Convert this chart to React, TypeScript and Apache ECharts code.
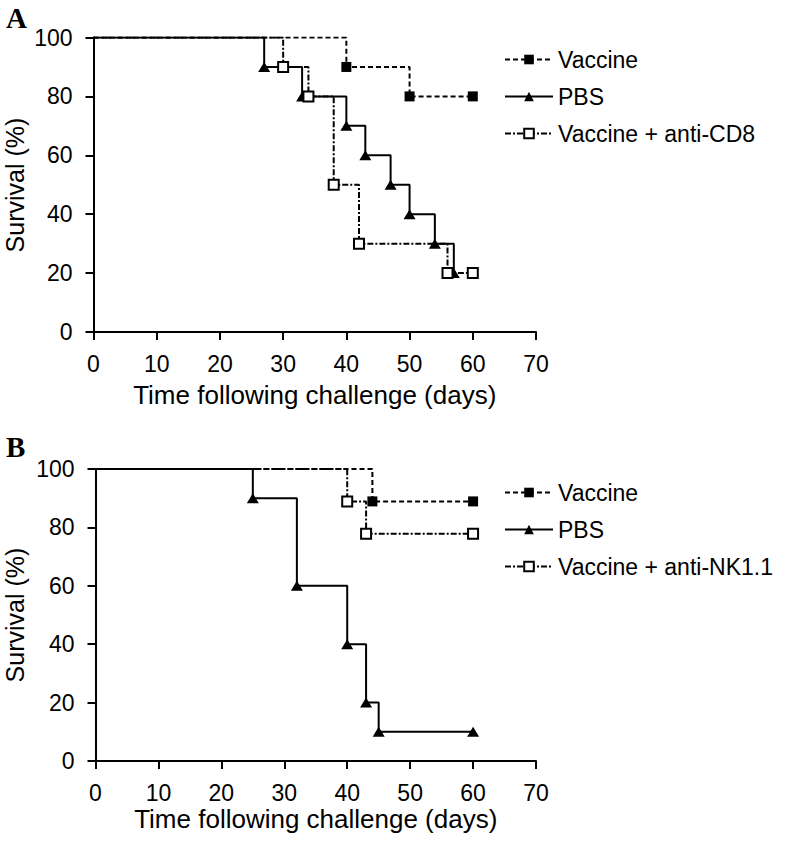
import React, { useEffect, useRef } from "react";
import * as echarts from "echarts";

// Panel A
const aVaccineDays = [0, 40, 50, 60];
const aVaccineSurv = [100, 90, 80, 80];
const aPbsDays = [0, 27, 33, 40, 43, 47, 50, 54, 57];
const aPbsSurv = [100, 90, 80, 70, 60, 50, 40, 30, 20];
const aCd8Days = [0, 30, 34, 38, 42, 56, 60];
const aCd8Surv = [100, 90, 80, 50, 30, 20, 20];

// Panel B
const bVaccineDays = [0, 44, 60];
const bVaccineSurv = [100, 88.9, 88.9];
const bPbsDays = [0, 25, 32, 40, 43, 45, 60];
const bPbsSurv = [100, 90, 60, 40, 20, 10, 10];
const bNkDays = [0, 40, 43, 60];
const bNkSurv = [100, 88.9, 77.8, 77.8];

const xTicks = [0, 10, 20, 30, 40, 50, 60, 70];
const yTicks = [0, 20, 40, 60, 80, 100];

const namesA = ["Vaccine", "PBS", "Vaccine + anti-CD8"];
const namesB = ["Vaccine", "PBS", "Vaccine + anti-NK1.1"];

const xTitle = "Time following challenge (days)";
const yTitle = "Survival (%)";

const FONT = "'Liberation Sans', Arial, Helvetica, sans-serif";

function pts(days: number[], surv: number[]) {
  return days.map((d, i) =>
    i === 0 ? { value: [d, surv[i]], symbol: "none" } : { value: [d, surv[i]] }
  );
}

function mkSeries(
  name: string,
  idx: number,
  days: number[],
  surv: number[],
  kind: "vac" | "pbs" | "anti"
) {
  const base: any = {
    name,
    type: "line",
    step: "end",
    xAxisIndex: idx,
    yAxisIndex: idx,
    data: pts(days, surv),
    showAllSymbol: true,
    symbolKeepAspect: true,
  };
  if (kind === "vac") {
    base.symbol = "rect";
    base.symbolSize = 10;
    base.itemStyle = { color: "#000", borderColor: "#000", borderWidth: 0 };
    base.lineStyle = { color: "#000", width: 2, type: [5, 3] };
    base.z = 2;
  } else if (kind === "pbs") {
    base.symbol = "triangle";
    base.symbolSize = [12, 10];
    base.itemStyle = { color: "#000" };
    base.lineStyle = { color: "#000", width: 2, type: "solid" };
    base.z = 3;
  } else {
    base.symbol = "rect";
    base.symbolSize = 10;
    base.itemStyle = { color: "#fff", borderColor: "#000", borderWidth: 2 };
    base.lineStyle = { color: "#000", width: 2, type: [6, 2, 2, 2] };
    base.z = 4;
  }
  return base;
}

function axisX(gridIndex: number, nameGap: number) {
  return {
    type: "value",
    gridIndex,
    min: xTicks[0],
    max: xTicks[xTicks.length - 1],
    interval: xTicks[1] - xTicks[0],
    name: xTitle,
    nameLocation: "middle",
    nameGap,
    nameTextStyle: { fontSize: 26, color: "#000", fontFamily: FONT },
    axisLine: { show: true, lineStyle: { color: "#000", width: 2 } },
    axisTick: { show: true, length: 8, lineStyle: { color: "#000", width: 2 } },
    axisLabel: { fontSize: 23, color: "#000", fontFamily: FONT, margin: 20 },
    splitLine: { show: false },
  };
}

function axisY(gridIndex: number) {
  return {
    type: "value",
    gridIndex,
    min: yTicks[0],
    max: yTicks[yTicks.length - 1],
    interval: yTicks[1] - yTicks[0],
    axisLine: { show: true, lineStyle: { color: "#000", width: 2 } },
    axisTick: { show: true, length: 8, lineStyle: { color: "#000", width: 2 } },
    axisLabel: { fontSize: 23, color: "#000", fontFamily: FONT, margin: 21 },
    splitLine: { show: false },
  };
}

function legend(data: string[], top: number) {
  return {
    orient: "vertical",
    left: 499,
    top,
    data,
    itemWidth: 48,
    itemHeight: 12,
    itemGap: 14,
    textStyle: { fontSize: 23, color: "#000", fontFamily: FONT, padding: [0, 0, 0, 0] },
    selectedMode: false,
  };
}

function yTitleText(cy: number) {
  return {
    type: "text",
    x: 15,
    y: cy,
    rotation: Math.PI / 2,
    style: {
      text: yTitle,
      font: `25px ${FONT}`,
      fill: "#000",
      align: "center",
      verticalAlign: "middle",
    },
  };
}

export default function App() {
  const ref = useRef<HTMLDivElement>(null);
  useEffect(() => {
    if (!ref.current) return;
    const chart = echarts.init(ref.current, null, { renderer: "svg" });
    chart.setOption({
      animation: false,
      backgroundColor: "#fff",
      grid: [
        { left: 93.5, top: 37.5, width: 442.5, height: 294.5, containLabel: false, outerBoundsMode: "none" },
        { left: 95.5, top: 469, width: 440.5, height: 292, containLabel: false, outerBoundsMode: "none" },
      ],
      xAxis: [axisX(0, 50), axisX(1, 45)],
      yAxis: [axisY(0), axisY(1)],
      legend: [legend(namesA, 43), legend(namesB, 476)],
      graphic: [
        {
          type: "text",
          left: 6,
          top: 3,
          style: { text: "A", font: "bold 29px 'Liberation Serif', 'Times New Roman', serif", fill: "#000" },
        },
        {
          type: "text",
          left: 6,
          top: 432,
          style: { text: "B", font: "bold 29px 'Liberation Serif', 'Times New Roman', serif", fill: "#000" },
        },
        yTitleText(185),
        yTitleText(615),
      ],
      series: [
        mkSeries(namesA[0], 0, aVaccineDays, aVaccineSurv, "vac"),
        mkSeries(namesA[1], 0, aPbsDays, aPbsSurv, "pbs"),
        mkSeries(namesA[2], 0, aCd8Days, aCd8Surv, "anti"),
        mkSeries(namesB[0], 1, bVaccineDays, bVaccineSurv, "vac"),
        mkSeries(namesB[1], 1, bPbsDays, bPbsSurv, "pbs"),
        mkSeries(namesB[2], 1, bNkDays, bNkSurv, "anti"),
      ],
    });
    return () => chart.dispose();
  }, []);
  return (
    <div
      ref={ref}
      style={{ position: "fixed", left: 0, top: 0, width: 793, height: 844, background: "#fff" }}
    />
  );
}
